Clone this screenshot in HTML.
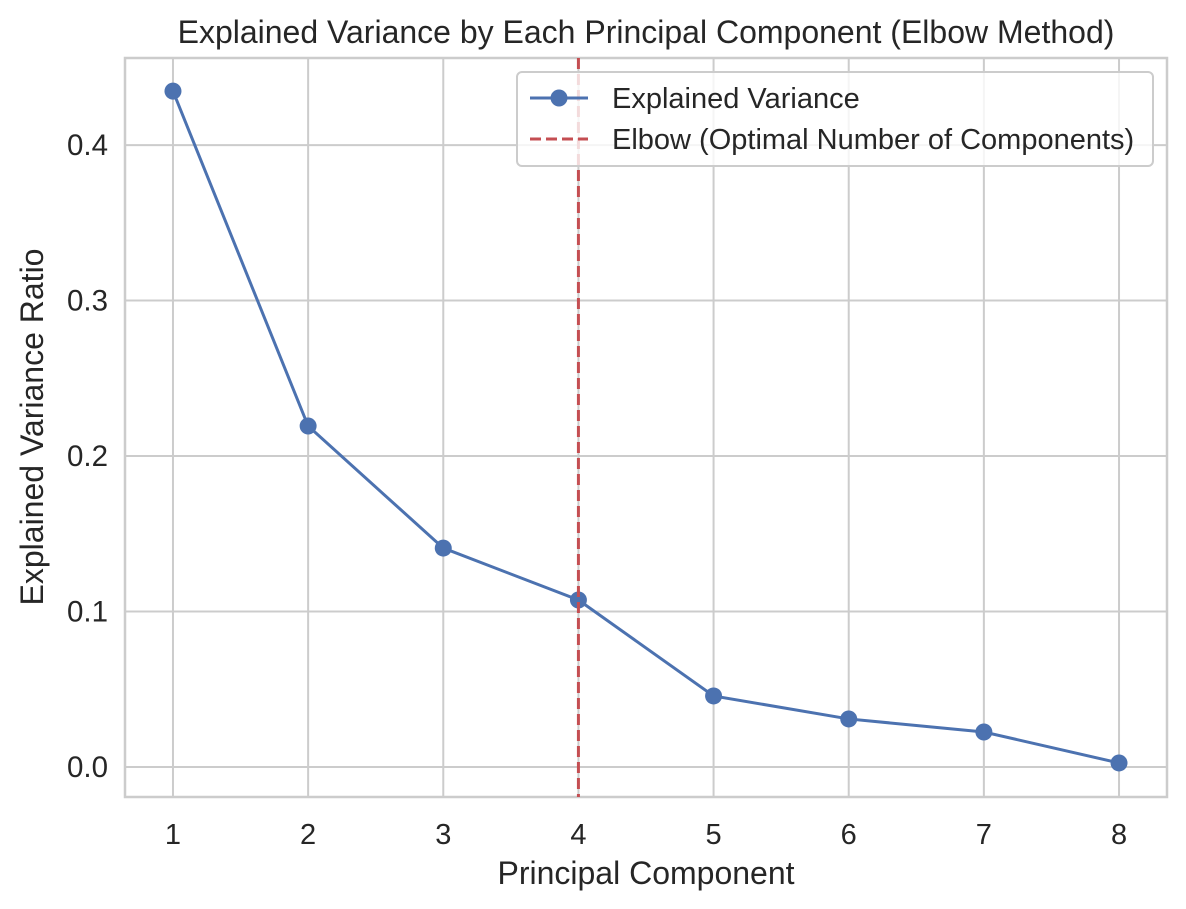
<!DOCTYPE html>
<html><head><meta charset="utf-8"><style>
body{margin:0;background:#fff;}
svg{display:block;font-family:"Liberation Sans",Arial,sans-serif;}
</style></head><body>
<svg id="chart" width="1186" height="909"></svg>
<script>
const components=[1,2,3,4,5,6,7,8];
const variance=[0.4347,0.2193,0.1408,0.1074,0.0457,0.0309,0.0225,0.0026];
const yTicks=[0.0,0.1,0.2,0.3,0.4];
const yTickLabels=["0.0","0.1","0.2","0.3","0.4"];
const elbowX=4;

const L=125,R=1167,T=58,B=797;
const xMin=0.645,xMax=8.355,yMin=-0.0193,yMax=0.456;
const sx=v=>L+(v-xMin)/(xMax-xMin)*(R-L);
const sy=v=>B-(v-yMin)/(yMax-yMin)*(B-T);
const svg=document.getElementById('chart');
const NS="http://www.w3.org/2000/svg";
function mk(tag,attrs,parent){const e=document.createElementNS(NS,tag);for(const k in attrs)e.setAttribute(k,attrs[k]);(parent||svg).appendChild(e);return e;}

mk('rect',{x:0,y:0,width:1186,height:909,fill:'#fff'});
components.forEach(c=>{const g=mk('line',{x1:sx(c),x2:sx(c),y1:T,y2:B,stroke:'#cccccc','stroke-width':2});


const t=mk('text',{x:sx(c),y:B+47,'text-anchor':'middle','font-size':29,fill:'#262626'});t.textContent=c;

});
yTicks.forEach((v,i)=>{const g=mk('line',{x1:L,x2:R,y1:sy(v),y2:sy(v),stroke:'#cccccc','stroke-width':2});


const t=mk('text',{x:L-17,y:sy(v)+10,'text-anchor':'end','font-size':29.5,fill:'#262626'});t.textContent=yTickLabels[i];

});
const fr=mk('rect',{x:L,y:T,width:R-L,height:B-T,fill:'none',stroke:'#cccccc','stroke-width':2.5});


const pl=mk('polyline',{points:components.map((c,i)=>sx(c)+','+sy(variance[i])).join(' '),fill:'none',stroke:'#4c72b0','stroke-width':3});


components.forEach((c,i)=>{const p=mk('circle',{cx:sx(c),cy:sy(variance[i]),r:8.5,fill:'#4c72b0'});

});
const el=mk('line',{x1:sx(elbowX),x2:sx(elbowX),y1:T,y2:B,stroke:'#c44e52','stroke-width':3,'stroke-dasharray':'11,5'});


</script>
<div style="position:absolute;left:0;top:0;width:1186px;height:909px;pointer-events:none">
<svg width="1186" height="909" style="position:absolute;left:0;top:0">
<text x="646" y="43" text-anchor="middle" font-size="32" fill="#262626">Explained Variance by Each Principal Component (Elbow Method)</text>
<text x="646" y="884" text-anchor="middle" font-size="32" fill="#262626">Principal Component</text>
<text transform="translate(43,427) rotate(-90)" text-anchor="middle" font-size="32" fill="#262626">Explained Variance Ratio</text>
<g>
<rect x="517" y="72" width="636" height="94" rx="5" fill="#fff" fill-opacity="0.8" stroke="#cccccc" stroke-width="2"/>
<g>
<line x1="530" x2="588" y1="98" y2="98" stroke="#4c72b0" stroke-width="3"/>
<circle cx="559" cy="98" r="8.5" fill="#4c72b0"/>
<text x="612" y="108" font-size="29" fill="#262626">Explained Variance</text>
</g>
<g>
<line x1="530" x2="588" y1="139" y2="139" stroke="#c44e52" stroke-width="3" stroke-dasharray="11,5"/>
<text x="612" y="149" font-size="29" fill="#262626">Elbow (Optimal Number of Components)</text>
</g>
</g>
</svg></div>
</body></html>
